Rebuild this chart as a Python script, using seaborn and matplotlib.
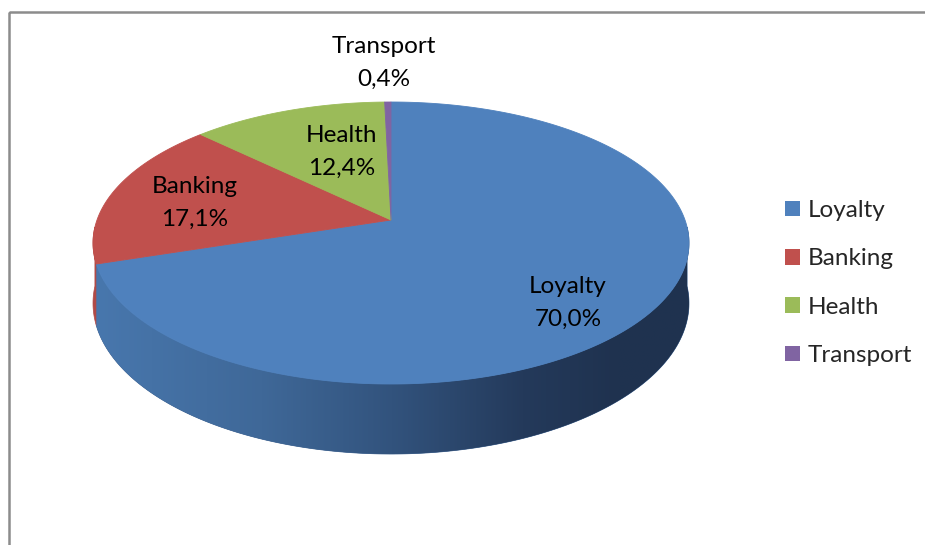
import numpy as np
import matplotlib
matplotlib.use("Agg")
import matplotlib.pyplot as plt
import seaborn as sns
from matplotlib.patches import Polygon, Rectangle, Patch
from matplotlib.colors import LinearSegmentedColormap

# ---------------- data ----------------
categories = ["Loyalty", "Banking", "Health", "Transport"]
shares = [70.0, 17.1, 12.4, 0.4]
pct_labels = ["70,0%", "17,1%", "12,4%", "0,4%"]

# ---------------- style ----------------
sns.set_theme(style="white")
plt.rcParams['font.family'] = ['Lato', 'DejaVu Sans']

top_colors = sns.color_palette(["#4F81BD", "#C0504D", "#9BBB59", "#8064A2"])
side_colors = ["#3A5F8E", "#B04A47", "#7C9647", "#664F82"]
loyalty_side_grad = LinearSegmentedColormap.from_list(
    "side", [(0.0, "#4877AD"), (0.28, "#3F6898"), (0.5, "#32537D"),
             (0.72, "#243A5B"), (0.88, "#1F324F"), (1.0, "#1F3350")])

label_xy = [(568, 303), (195, 203), (342, 152), (384, 63)]  # label centres (px)
FS = 17.5

# geometry of the projected pie (pixels)
CX, CY, A, B, D = 391, 243, 294, 141, 23
C = D / B
DEPTH = 58.6


def proj(X, Y):
    w = 1 + C * Y
    return CX + A * X / w, CY - (B * Y + D) / w


fig = plt.figure(figsize=(9.25, 5.45), dpi=100)
ax = fig.add_axes([0, 0, 1, 1])
ax.set_xlim(0, 925)
ax.set_ylim(545, 0)
ax.axis("off")

# chart border
ax.add_patch(Rectangle((9, 12), 930, 560, fill=False, edgecolor="#8C8C8C",
                       lw=1.8, zorder=10))

fr = np.array(shares) / np.sum(shares)
bounds = 90 - 360 * np.concatenate([[0], np.cumsum(fr)])

# ---- side walls (front-facing part only) ----
for i in range(len(shares)):
    t = np.radians(np.linspace(bounds[i], bounds[i + 1], 400))
    keep = np.sin(t) <= -0.05
    if keep.sum() < 2:
        continue
    t = t[keep]
    X, Y = np.cos(t), np.sin(t)
    xs, ys = proj(X, Y)
    dep = DEPTH / (1 + C * Y)
    px = np.concatenate([xs, xs[::-1]])
    py = np.concatenate([ys, (ys + dep)[::-1]])
    poly = Polygon(np.column_stack([px, py]), closed=True,
                   facecolor=side_colors[i], edgecolor=side_colors[i],
                   lw=0.5, zorder=1)
    ax.add_patch(poly)
    if i == 0:
        grad = np.linspace(0, 1, 256).reshape(1, -1)
        im = ax.imshow(grad, cmap=loyalty_side_grad, aspect="auto",
                       extent=(xs.min(), xs.max(), 480, 220), zorder=1.5,
                       interpolation="bilinear")
        im.set_clip_path(poly)

# ---- top faces ----
apex = proj(0.0, 0.0)
for i in range(len(shares)):
    t = np.radians(np.linspace(bounds[i], bounds[i + 1], 400))
    xs, ys = proj(np.cos(t), np.sin(t))
    px = np.concatenate([[apex[0]], xs])
    py = np.concatenate([[apex[1]], ys])
    ax.add_patch(Polygon(np.column_stack([px, py]), closed=True,
                         facecolor=top_colors[i], edgecolor=top_colors[i],
                         lw=0.6, zorder=3))

# ---- labels ----
for i, cat in enumerate(categories):
    ax.text(label_xy[i][0], label_xy[i][1], f"{cat}\n{pct_labels[i]}",
            ha="center", va="center", fontsize=FS, linespacing=1.72,
            color="black", zorder=5)

# ---- legend ----
handles = [Patch(facecolor=top_colors[i], edgecolor="none")
           for i in range(len(categories))]
ax.legend(handles, categories, loc="center left",
          bbox_to_anchor=(785, 283), bbox_transform=ax.transData,
          frameon=False, fontsize=FS, handlelength=0.6, handleheight=0.6,
          handletextpad=0.35, labelspacing=1.12, borderpad=0, borderaxespad=0)

fig.savefig("out.png", dpi=100)
